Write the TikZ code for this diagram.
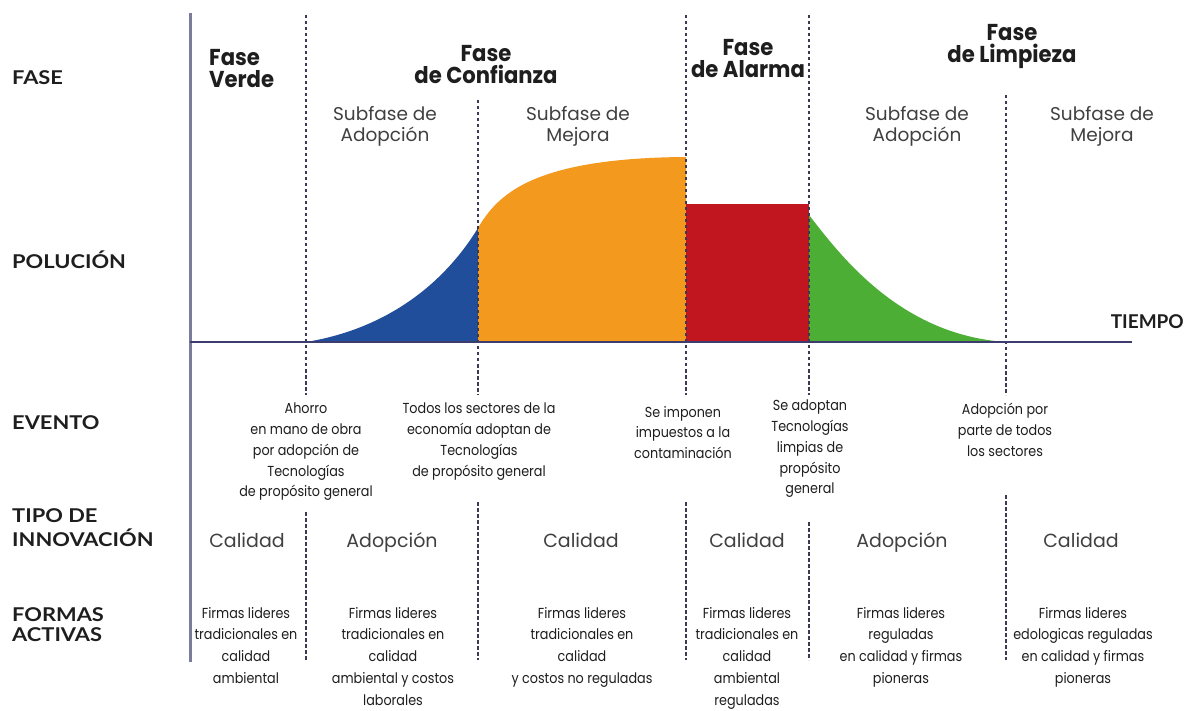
\documentclass[tikz,border=0pt]{standalone}
\usepackage{fontspec}
\setmainfont{Poppins}
\newfontfamily\labfont[FakeStretch=1.15]{Lato}
\newfontfamily\labplain{Lato}
\newfontfamily\condfont[FakeStretch=0.88]{Poppins}
\newfontfamily\headfont[FakeStretch=0.92]{Poppins}

\definecolor{axisv}{HTML}{7B7B9B}
\definecolor{axish}{HTML}{3C3C6E}
\definecolor{dashc}{HTML}{3A3A55}
\definecolor{fillblue}{HTML}{214E9A}
\definecolor{fillorange}{HTML}{F2991E}
\definecolor{fillred}{HTML}{C1151F}
\definecolor{fillgreen}{HTML}{4DAE35}
\definecolor{ink}{HTML}{1E1E1E}

\tikzset{
  rowlabel/.style={font=\labfont\bfseries\fontsize{19}{20}\selectfont, text=ink, inner sep=0pt},
  phasehead/.style={font=\headfont\bfseries\fontsize{23}{22.5}\selectfont, text=ink, align=center, inner sep=0pt, anchor=north},
  subphase/.style={font=\fontsize{18.5}{21.5}\selectfont, text=ink!85, align=center, inner sep=0pt, anchor=north},
  innovkind/.style={font=\fontsize{19}{20}\selectfont, text=ink!85, inner sep=0pt, anchor=base},
  eventtext/.style={font=\condfont\fontsize{14.5}{20.7}\selectfont, text=ink, align=center, inner sep=0pt, anchor=north},
  firmtext/.style={font=\condfont\fontsize{14.5}{21.7}\selectfont, text=ink, align=center, inner sep=0pt, anchor=north},
  divider/.style={dashc, line width=1.3pt, dash pattern=on 3.5pt off 2.5pt},
}

\begin{document}
\begin{tikzpicture}[x=1pt,y=-1pt]
\fill[white] (0,0) rectangle (1189,711);
\useasboundingbox (0,0) rectangle (1189,711);

% pollution curve, one colour per stage
\fill[fillblue] (306,342) .. controls (380,330) and (440,290) .. (478,228) -- (478,342) -- cycle;
\fill[fillorange] (478,228) .. controls (497,196) and (530,158) .. (686,157) -- (686,342) -- (478,342) -- cycle;
\fill[fillred] (686,204) rectangle (809,342);
\fill[fillgreen] (809,215) .. controls (840,255) and (900,335) .. (1006,342) -- (809,342) -- cycle;

% stage dividers
\foreach \xx/\ya/\yb/\yc in {306/15/395/512, 478/100/395/502, 686/15/395/502, 809/15/395/522, 1006/95/395/495}{
  \draw[divider] (\xx,\ya) -- (\xx,\yb);
  \draw[divider] (\xx,\yc) -- (\xx,660);
}

% axes
\coordinate (yTop) at (190.5,13);
\coordinate (yBot) at (190.5,662);
\coordinate (xLeft) at (190,342);
\coordinate (xRight) at (1132,342);
\draw[axisv, line width=2.6pt] (yTop) -- (yBot);
\draw[axish, line width=2pt] (xLeft) -- (xRight);

% row labels
\node[rowlabel, anchor=base west] (lblFase) at (12,84.5) {FASE};
\node[rowlabel, anchor=base west] (lblPol) at (12,269) {POLUCIÓN};
\node[rowlabel, anchor=base west] (lblEvento) at (12,429) {EVENTO};
\node[rowlabel, anchor=north west, align=left, font=\labfont\bfseries\fontsize{19}{24.5}\selectfont] (lblTipo) at (12,508) {TIPO DE\\INNOVACIÓN};
\node[rowlabel, anchor=north west, align=left] (lblFormas) at (12,607) {FORMAS\\ACTIVAS};
\node[rowlabel, anchor=base east, font=\labplain\bfseries\fontsize{19}{20}\selectfont] (lblTiempo) at (1184,329) {TIEMPO};

% phases
\node[phasehead, anchor=north west, align=left] (phVerde) at (209,49) {Fase\\Verde};
\node[phasehead] (phConf) at (486,45) {Fase\\de Confianza};
\node[phasehead] (phAlarma) at (748,39) {Fase\\de Alarma};
\node[phasehead] (phLimp) at (1012,24) {Fase\\de Limpieza};

% sub-phases
\node[subphase] (spAdopA) at (385,106) {Subfase de\\Adopción};
\node[subphase] (spMejA) at (578,106) {Subfase de\\Mejora};
\node[subphase] (spAdopB) at (917,106) {Subfase de\\Adopción};
\node[subphase] (spMejB) at (1102,106) {Subfase de\\Mejora};

% events
\node[eventtext] (evAhorro) at (306,403) {Ahorro\\en mano de obra\\por adopción de\\Tecnologías\\de propósito general};
\node[eventtext] (evTodos) at (479,403) {Todos los sectores de la\\economía adoptan de\\Tecnologías\\de propósito general};
\node[eventtext] (evImpuestos) at (683,406) {Se imponen\\impuestos a la\\contaminación};
\node[eventtext] (evLimpias) at (810,400) {Se adoptan\\Tecnologías\\limpias de\\propósito\\general};
\node[eventtext] (evSectores) at (1005,403) {Adopción por\\parte de todos\\los sectores};

% kind of innovation
\node[innovkind] (inA) at (247,547) {Calidad};
\node[innovkind] (inB) at (392,547) {Adopción};
\node[innovkind] (inC) at (581,547) {Calidad};
\node[innovkind] (inD) at (747,547) {Calidad};
\node[innovkind] (inE) at (902,547) {Adopción};
\node[innovkind] (inF) at (1081,547) {Calidad};

% active firms
\node[firmtext] (fmA) at (246,607) {Firmas lideres\\tradicionales en\\calidad\\ambiental};
\node[firmtext] (fmB) at (393,607) {Firmas lideres\\tradicionales en\\calidad\\ambiental y costos\\laborales};
\node[firmtext] (fmC) at (582,607) {Firmas lideres\\tradicionales en\\calidad\\y costos no reguladas};
\node[firmtext] (fmD) at (747,607) {Firmas lideres\\tradicionales en\\calidad\\ambiental\\reguladas};
\node[firmtext] (fmE) at (901,607) {Firmas lideres\\reguladas\\en calidad y firmas\\pioneras};
\node[firmtext] (fmF) at (1083,607) {Firmas lideres\\edologicas reguladas\\en calidad y firmas\\pioneras};
\end{tikzpicture}
\end{document}
